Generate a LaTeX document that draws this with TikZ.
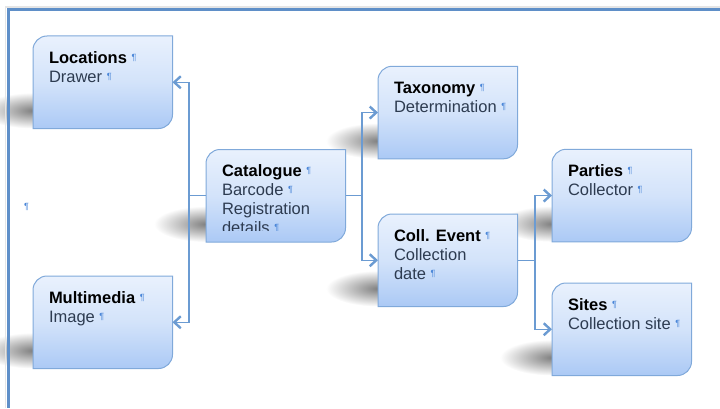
\documentclass[tikz,border=0pt]{standalone}
\usepackage{fontspec}
\setmainfont{Liberation Sans}
\usetikzlibrary{arrows.meta}
\definecolor{frameblue}{HTML}{5F8FC8}
\definecolor{linkblue}{HTML}{6B9BD2}
\definecolor{boxtop}{HTML}{E9F1FD}
\definecolor{boxmid}{HTML}{D3E3FA}
\definecolor{boxbot}{HTML}{ABC9F5}
\definecolor{boxedge}{HTML}{80A9DA}
\definecolor{pilblue}{HTML}{4A86D8}
\definecolor{subtxt}{HTML}{2D3B50}
\newcommand\pil{{\mdseries\fontsize{9}{9}\selectfont\color{pilblue}\raisebox{3pt}{¶}}}
\newcommand\ttl[1]{{\color{black}\bfseries #1}}
\newcommand\boxpath[1]{%
  \draw[boxshape] (#1.south west) -- ([yshift=-14pt]#1.north west)
    arc[start angle=180,end angle=90,radius=14pt] -- (#1.north east)
    -- ([yshift=14pt]#1.south east)
    arc[start angle=0,end angle=-90,radius=14pt] -- cycle;}
\tikzset{
  boxn/.style={minimum width=139.5pt, minimum height=92.5pt, inner sep=0pt, outer sep=0pt, anchor=north west},
  boxshape/.style={draw=boxedge, line width=1pt, top color=boxtop, bottom color=boxbot, middle color=boxmid},
  txt/.style={anchor=north west, inner sep=0pt, outer sep=0pt, align=left, text=subtxt},
  link/.style={draw=linkblue, line width=1.1pt},
  arr/.style={link, -{Straight Barb[length=6.5pt, width=12pt, line width=2.4pt]}},
  frame/.style={draw=frameblue, line width=2.6pt},
  shadowy/.style={inner color=black!50, outer color=white}
}
\begin{document}
\begin{tikzpicture}[x=1pt, y=1pt, font=\fontsize{16.5}{19}\selectfont]
\useasboundingbox (0,0) rectangle (720,408);
% box placeholders
\node[boxn] (loc)  at (33,372)    {};
\node[boxn] (mm)   at (33,132)    {};
\node[boxn] (cat)  at (206,258.5) {};
\node[boxn] (tax)  at (378,341.7) {};
\node[boxn] (ce)   at (378,194)   {};
\node[boxn] (par)  at (552,258.7) {};
\node[boxn] (site) at (552,125)   {};
% shadows
\foreach \n in {loc,mm,cat,tax,ce,par,site}
  \shade[shadowy] ([yshift=18pt]\n.south west) ellipse [x radius=52pt, y radius=18pt];
% page frame
\draw[gray!20, line width=1.2pt] (720,401) -- (5.6,401) -- (5.6,0);
\draw[frame] (720,398.5) -- (8.3,398.5) -- (8.3,0);
% boxes
\foreach \n in {loc,mm,cat,tax,ce,par,site} {\boxpath{\n}}
% connectors
\coordinate (j1) at (189,0);
\coordinate (j2) at (362,0);
\coordinate (j3) at (535,0);
\draw[link] (cat.west) -- (j1 |- cat.west);
\draw[arr] (j1 |- cat.west) |- (loc.east);
\draw[arr] (j1 |- cat.west) |- (mm.east);
\draw[link] (cat.east) -- (j2 |- cat.east);
\draw[arr] (j2 |- cat.east) |- (tax.west);
\draw[arr] (j2 |- cat.east) |- (ce.west);
\draw[link] (ce.east) -- (j3 |- ce.east);
\draw[arr] (j3 |- ce.east) |- (par.west);
\draw[arr] (j3 |- ce.east) |- (site.west);
% texts
\node[txt] (loct) at ([xshift=16pt,yshift=-15pt]loc.north west) {\rule{0pt}{12pt}\ttl{Locations} \pil\\ Drawer \pil};
\node[txt] (mmt) at ([xshift=16pt,yshift=-15pt]mm.north west) {\rule{0pt}{12pt}\ttl{Multimedia} \pil\\ Image \pil};
\begin{scope}
  \clip ([yshift=12pt]cat.south west) rectangle (cat.north east);
  \node[txt] (catt) at ([xshift=16pt,yshift=-15pt]cat.north west) {\rule{0pt}{12pt}\ttl{Catalogue} \pil\\ Barcode \pil\\ Registration\\ details \pil};
\end{scope}
\node[txt] (taxt) at ([xshift=16pt,yshift=-15pt]tax.north west) {\rule{0pt}{12pt}\ttl{Taxonomy} \pil\\ Determination \pil};
\node[txt] (cet) at ([xshift=16pt,yshift=-15pt]ce.north west) {\rule{0pt}{12pt}\ttl{Coll. Event} \pil\\ Collection\\ date \pil};
\node[txt] (part) at ([xshift=16pt,yshift=-15pt]par.north west) {\rule{0pt}{12pt}\ttl{Parties} \pil\\ Collector \pil};
\node[txt] (sitet) at ([xshift=16pt,yshift=-15pt]site.north west) {\rule{0pt}{12pt}\ttl{Sites} \pil\\ Collection site \pil};
\node[inner sep=0pt] (lonepil) at (26.5,200) {\pil};
\end{tikzpicture}
\end{document}
